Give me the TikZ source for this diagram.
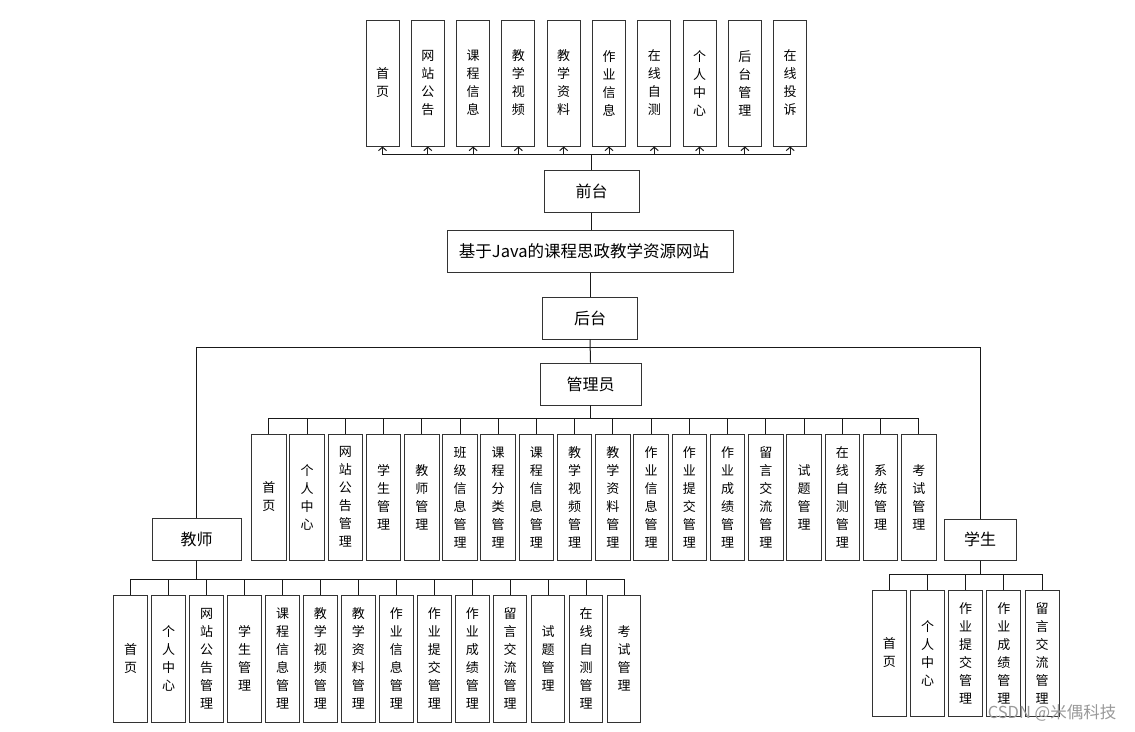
\documentclass[tikz,border=0pt]{standalone}
\usepackage{fontspec}
\setmainfont{Noto Sans CJK SC}
\newfontfamily\cjk{Noto Sans CJK SC}
\usetikzlibrary{arrows.meta}
\ExplSyntaxOn
\bool_new:N \l_vt_first_bool
\tl_new:N \l_vt_text_tl
\cs_new_protected:Npn \vt #1
  {
    \tl_set:Nx \l_vt_text_tl {#1}
    \bool_set_true:N \l_vt_first_bool
    \tl_map_inline:Nn \l_vt_text_tl
      {
        \bool_if:NF \l_vt_first_bool { \\ }
        \bool_set_false:N \l_vt_first_bool
        ##1
      }
  }
\ExplSyntaxOff
\tikzset{
  vb/.style={draw=black!80, line width=1pt, fill=white, minimum height=126pt, inner sep=0pt,
    align=center, font=\cjk\fontsize{13}{18}\selectfont},
  hb/.style={draw=black!80, line width=1pt, fill=white, minimum height=42pt, inner sep=0pt,
    font=\cjk\fontsize{16}{18}\selectfont},
  ln/.style={draw=black!90, line width=1pt},
  arr/.style={ln, -{Straight Barb[length=3.5pt,width=8pt]}},
}
\begin{document}
\begin{tikzpicture}[x=1pt,y=-1pt]
\useasboundingbox (0,0) rectangle (1135,731);
% headline nodes
\node[hb, minimum width=95pt] (qt) at (591.5,191) {前台};
\node[hb, minimum width=286pt] (main) at (590,251) {\hspace*{-12pt}\fontsize{16.5}{18}\selectfont 基于Java的课程思政教学资源网站};
\node[hb, minimum width=95pt] (ht) at (590,318) {后台};
\node[hb, minimum width=101pt] (gly) at (590.5,384) {管理员};
\node[hb, minimum width=89pt] (js) at (196.5,539) {教师};
\node[hb, minimum width=72pt, minimum height=41pt] (xs) at (980,539.5) {学生};
% front row
\foreach \s [count=\i from 0] in {首页,网站公告,课程信息,教学视频,教学资料,作业信息,在线自测,个人中心,后台管理,在线投诉}
  \node[vb, minimum width=33pt] (t\i) at ({382.5+45.3*\i},83) {\vt{\s}};
% admin row
\foreach \s [count=\i from 0] in {首页,个人中心,网站公告管理,学生管理,教师管理,班级信息管理,课程分类管理,课程信息管理,教学视频管理,教学资料管理,作业信息管理,作业提交管理,作业成绩管理,留言交流管理,试题管理,在线自测管理,系统管理,考试管理}
  \node[vb, minimum width=34.5pt] (a\i) at ({268.8+38.24*\i},497) {\vt{\s}};
% teacher row
\foreach \s [count=\i from 0] in {首页,个人中心,网站公告管理,学生管理,课程信息管理,教学视频管理,教学资料管理,作业信息管理,作业提交管理,作业成绩管理,留言交流管理,试题管理,在线自测管理,考试管理}
  \node[vb, minimum width=33.5pt, minimum height=127pt] (e\i) at ({130.7+37.95*\i},658.5) {\vt{\s}};
% student row
\foreach \s [count=\i from 0] in {首页,个人中心,作业提交管理,作业成绩管理,留言交流管理}
  \node[vb, minimum width=34pt] (s\i) at ({889.3+38.2*\i},653) {\vt{\s}};
% bus coordinates
\coordinate (tbus) at (0,154);
\coordinate (bbus) at (0,347.7);
\coordinate (abus) at (0,418);
\coordinate (ebus) at (0,579);
\coordinate (sbus) at (0,574);
% connectors
\foreach \i in {0,...,9}
  \draw[arr] (qt.north) -- (qt.north |- tbus) -| (t\i.south);
\draw[ln] (qt.south) -- (qt.south |- main.north);
\draw[ln] (main.south) -- (ht.north);
\draw[ln] (ht.south) -- (gly.north);
\draw[ln] (js.north) -- (js.north |- bbus) -| (xs.north);
\foreach \i in {0,...,17}
  \draw[ln] (gly.south) -- (gly.south |- abus) -| (a\i.north);
\foreach \i in {0,...,13}
  \draw[ln] (js.south) -- (js.south |- ebus) -| (e\i.north);
\foreach \i in {0,...,4}
  \draw[ln] (xs.south) -- (xs.south |- sbus) -| (s\i.north);
% watermark
\node[text=black!40, font=\cjk\fontsize{16.5}{18}\selectfont, inner sep=0pt] (wm) at (1052,713) {CSDN @米偶科技};
\end{tikzpicture}
\end{document}
